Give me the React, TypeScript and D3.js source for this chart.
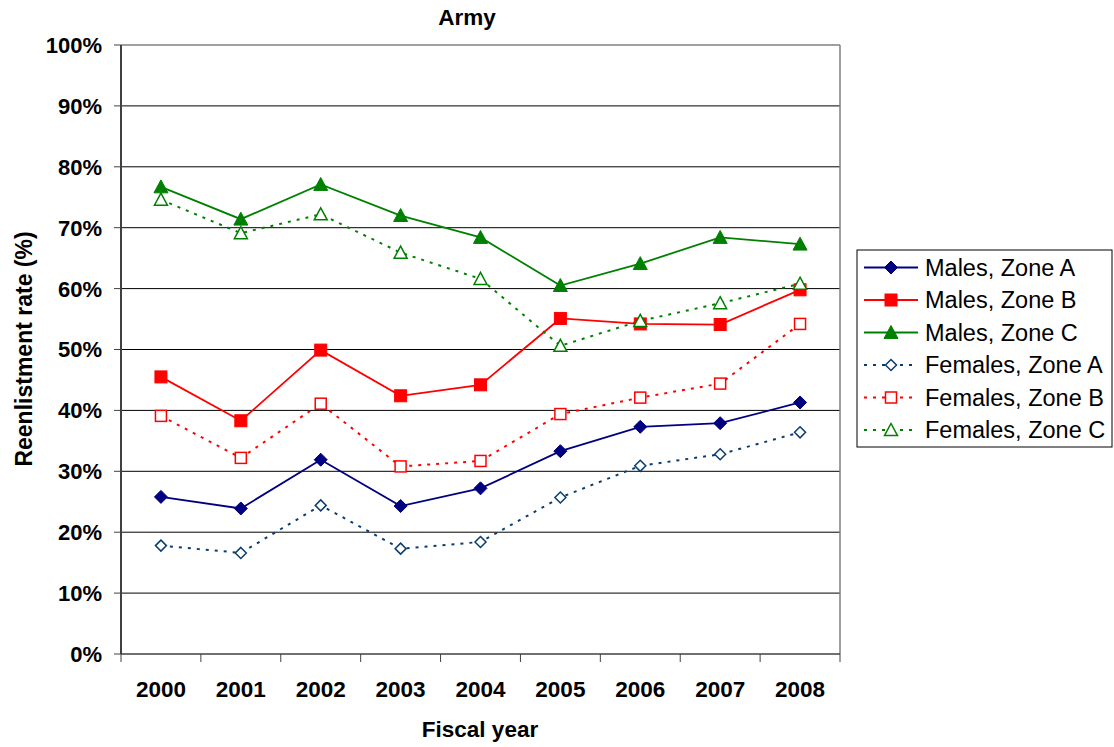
import React from "react";
import * as d3 from "d3";

const years = ["2000", "2001", "2002", "2003", "2004", "2005", "2006", "2007", "2008"];
const yTicks = [0, 10, 20, 30, 40, 50, 60, 70, 80, 90, 100];

const malesA = [25.8, 23.9, 31.9, 24.3, 27.2, 33.3, 37.3, 37.9, 41.3];
const malesB = [45.5, 38.3, 49.9, 42.4, 44.2, 55.1, 54.2, 54.1, 59.8];
const malesC = [76.7, 71.4, 77.1, 72.0, 68.4, 60.5, 64.1, 68.4, 67.3];
const femalesA = [17.8, 16.6, 24.4, 17.3, 18.4, 25.7, 30.9, 32.8, 36.4];
const femalesB = [39.1, 32.2, 41.1, 30.8, 31.7, 39.4, 42.1, 44.4, 54.2];
const femalesC = [74.6, 69.1, 72.2, 65.9, 61.6, 50.6, 54.7, 57.6, 60.8];

const seriesNames = [
  "Males, Zone A",
  "Males, Zone B",
  "Males, Zone C",
  "Females, Zone A",
  "Females, Zone B",
  "Females, Zone C",
];

type Shape = "diamond" | "square" | "triangle";
const series = [
  { name: seriesNames[0], values: malesA, color: "#000080", shape: "diamond" as Shape, filled: true },
  { name: seriesNames[1], values: malesB, color: "#FF0000", shape: "square" as Shape, filled: true },
  { name: seriesNames[2], values: malesC, color: "#008000", shape: "triangle" as Shape, filled: true },
  { name: seriesNames[3], values: femalesA, color: "#0A3D6E", shape: "diamond" as Shape, filled: false },
  { name: seriesNames[4], values: femalesB, color: "#FF0000", shape: "square" as Shape, filled: false },
  { name: seriesNames[5], values: femalesC, color: "#008000", shape: "triangle" as Shape, filled: false },
];

const W = 1114;
const H = 747;
const left = 121;
const right = 840;
const top = 45;
const bottom = 654;

function Marker({ x, y, shape, color, filled }: { x: number; y: number; shape: Shape; color: string; filled: boolean }) {
  const fill = filled ? color : "#ffffff";
  const sw = filled ? 1 : 1.5;
  if (shape === "diamond") {
    const r = filled ? 6.5 : 5.5;
    return (
      <path
        d={`M${x},${y - r}L${x + r},${y}L${x},${y + r}L${x - r},${y}Z`}
        fill={fill}
        stroke={color}
        strokeWidth={sw}
      />
    );
  }
  if (shape === "square") {
    const r = filled ? 6 : 5.5;
    return <rect x={x - r} y={y - r} width={2 * r} height={2 * r} fill={fill} stroke={color} strokeWidth={sw} />;
  }
  const r = filled ? 7 : 6.5;
  return (
    <path
      d={`M${x},${y - r}L${x + r},${y + r * 0.85}L${x - r},${y + r * 0.85}Z`}
      fill={fill}
      stroke={color}
      strokeWidth={sw}
    />
  );
}

export default function App() {
  const x = d3.scaleBand<string>().domain(years).range([left, right]);
  const y = d3.scaleLinear().domain([0, 100]).range([bottom, top]);
  const cx = (yr: string) => (x(yr) as number) + x.bandwidth() / 2;
  const line = d3
    .line<number>()
    .x((_, i) => cx(years[i]))
    .y((d) => y(d));

  const legX = 857;
  const legY = 250;
  const legW = 255;
  const legH = 197;
  const rowY = (i: number) => legY + 17.5 + i * 32.5;

  return (
    <svg width={W} height={H} style={{ display: "block", position: "absolute", left: 0, top: 0 }} fontFamily="Arial, 'Liberation Sans', sans-serif">
      <rect width={W} height={H} fill="#ffffff" />
      {yTicks.slice(1, -1).map((t) => (
        <line key={t} x1={left} x2={right} y1={y(t)} y2={y(t)} stroke="#000000" strokeWidth={1} />
      ))}
      <line x1={left} x2={right} y1={y(100)} y2={y(100)} stroke="#808080" strokeWidth={1.5} />
      <line x1={right} x2={right} y1={top} y2={bottom} stroke="#808080" strokeWidth={1.5} />
      <line x1={left} x2={left} y1={top} y2={bottom} stroke="#404040" strokeWidth={2} />
      {yTicks.map((t) => (
        <g key={t}>
          <line x1={left - 7} x2={left} y1={y(t)} y2={y(t)} stroke="#404040" strokeWidth={1} />
          <text x={102} y={y(t)} dy="0.36em" textAnchor="end" fontSize={22} fontWeight="bold" fill="#000">
            {t}%
          </text>
        </g>
      ))}
      <line x1={left} x2={right} y1={bottom} y2={bottom} stroke="#404040" strokeWidth={1.5} />
      {years.map((yr) => (
        <line
          key={"t" + yr}
          x1={x(yr) as number}
          x2={x(yr) as number}
          y1={bottom}
          y2={bottom + 8}
          stroke="#404040"
          strokeWidth={1}
        />
      ))}
      <line x1={right} x2={right} y1={bottom} y2={bottom + 8} stroke="#404040" strokeWidth={1} />
      {years.map((yr) => (
        <text key={"l" + yr} x={cx(yr)} y={697} textAnchor="middle" fontSize={22.5} fontWeight="bold" fill="#000">
          {yr}
        </text>
      ))}
      <text x={467} y={25} textAnchor="middle" fontSize={22.5} fontWeight="bold" fill="#000">
        Army
      </text>
      <text x={480} y={737} textAnchor="middle" fontSize={22.5} fontWeight="bold" fill="#000">
        Fiscal year
      </text>
      <text
        transform={`translate(32,349) rotate(-90)`}
        textAnchor="middle"
        fontSize={23}
        fontWeight="bold"
        fill="#000"
      >
        Reenlistment rate (%)
      </text>
      {series.map((s) => (
        <path
          key={"p" + s.name}
          d={line(s.values) || ""}
          fill="none"
          stroke={s.color}
          strokeWidth={s.filled ? 1.8 : 2}
          strokeDasharray={s.filled ? undefined : "3,6"}
        />
      ))}
      {series.map((s) =>
        s.values.map((v, i) => (
          <Marker key={s.name + i} x={cx(years[i])} y={y(v)} shape={s.shape} color={s.color} filled={s.filled} />
        ))
      )}
      <rect x={legX} y={legY} width={legW} height={legH} fill="#ffffff" stroke="#000000" strokeWidth={1} />
      {series.map((s, i) => (
        <g key={"lg" + s.name}>
          <line
            x1={864}
            x2={918}
            y1={rowY(i)}
            y2={rowY(i)}
            stroke={s.color}
            strokeWidth={s.filled ? 1.8 : 2}
            strokeDasharray={s.filled ? undefined : "3,6"}
          />
          <Marker x={891} y={rowY(i)} shape={s.shape} color={s.color} filled={s.filled} />
          <text x={925} y={rowY(i)} dy="0.36em" fontSize={23.5} fill="#000">
            {s.name}
          </text>
        </g>
      ))}
    </svg>
  );
}
